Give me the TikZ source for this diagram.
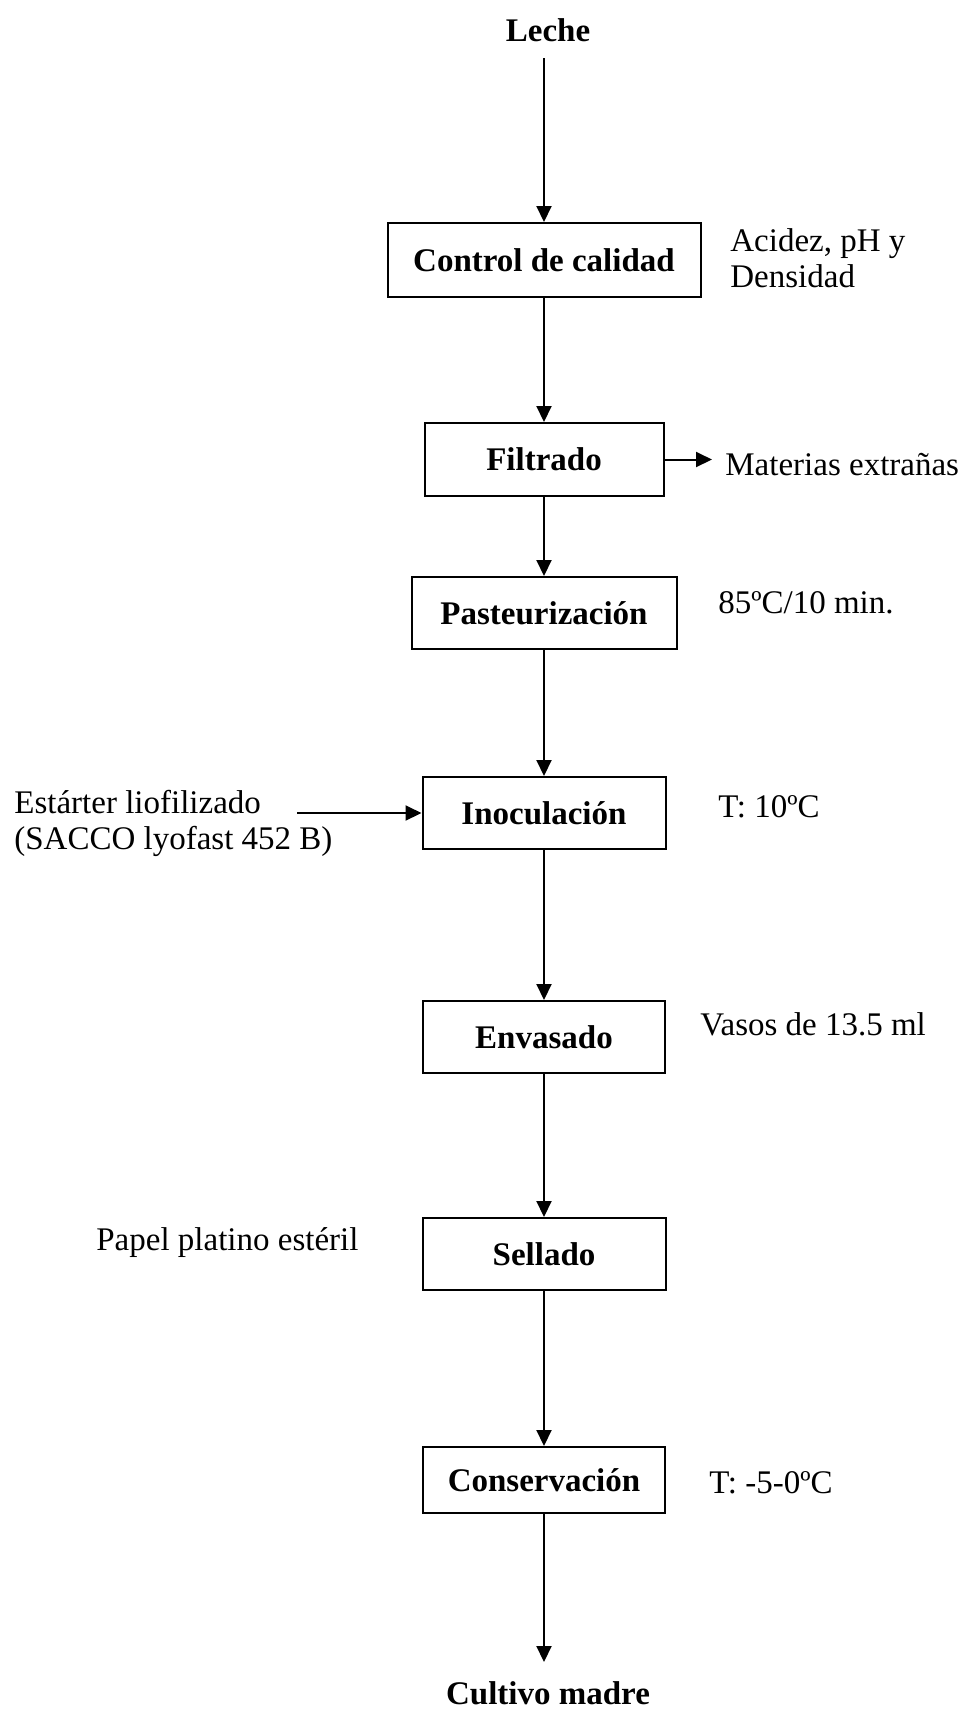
\documentclass[tikz,border=0pt]{standalone}
\usepackage{fontspec}
\setmainfont{Liberation Serif}
\usetikzlibrary{arrows.meta}
\begin{document}
\begin{tikzpicture}[x=0.5pt,y=-0.5pt,
  txt/.style={font=\fontsize{16.5}{18}\selectfont, inner sep=0pt},
  btxt/.style={font=\fontsize{16.5}{18}\selectfont\bfseries, inner sep=0pt},
  bx/.style={draw, line width=1pt, font=\fontsize{16.5}{18}\selectfont\bfseries, inner sep=0pt, minimum height=36pt},
  arr/.style={line width=1pt, -{Triangle[length=8pt,width=7.5pt]}},
]
\useasboundingbox (0,0) rectangle (970,1710);
% top and bottom labels
\node[btxt, anchor=base] (leche) at (548,41) {Leche};
\coordinate (a0) at (544,58);
% process boxes
\node[bx, minimum width=156.5pt, minimum height=37pt] (ctrl) at (544,260) {Control de calidad};
\node[bx, minimum width=119.5pt, minimum height=36.5pt] (filt) at (544,459.5) {Filtrado};
\node[bx, minimum width=132.5pt] (past) at (544,613) {Pasteurización};
\node[bx, minimum width=121.5pt] (inoc) at (544,813) {Inoculación};
\node[bx, minimum width=121pt] (env) at (544,1037) {Envasado};
\node[bx, minimum width=121.5pt] (sel) at (544,1254) {Sellado};
\node[bx, minimum width=121pt, minimum height=33pt] (con) at (544,1480) {Conservación};
\coordinate (cx) at (544,1662);
\node[btxt, anchor=base] (cm) at (548,1704) {Cultivo madre};
% side labels
\node[txt, anchor=west, align=left] (acid) at (730,258) {Acidez, pH y\\Densidad};
\node[txt, anchor=base west] (mat) at (725,475) {Materias extrañas};
\node[txt, anchor=base west] (t1) at (718,613) {85ºC/10 min.};
\node[txt, anchor=base west] (t2) at (718,817) {T: 10ºC};
\node[txt, anchor=west, align=left] (est) at (14,823) {Estárter liofilizado\\(SACCO lyofast 452 B)};
\node[txt, anchor=base west] (vas) at (700,1035) {Vasos de 13.5 ml};
\node[txt, anchor=base west] (pap) at (96,1250) {Papel platino estéril};
\node[txt, anchor=base west] (t3) at (709,1493) {T: -5-0ºC};
\coordinate (mx) at (712,459.5);
\coordinate (ex) at (297,813);
% connectors
\draw[arr] (a0) -- (ctrl.north);
\draw[arr] (ctrl.south) -- (filt.north);
\draw[arr] (filt.south) -- (past.north);
\draw[arr] (past.south) -- (inoc.north);
\draw[arr] (inoc.south) -- (env.north);
\draw[arr] (env.south) -- (sel.north);
\draw[arr] (sel.south) -- (con.north);
\draw[arr] (con.south) -- (cx);
\draw[arr] (filt.east) -- (mx);
\draw[arr] (ex) -- (inoc.west);
\end{tikzpicture}
\end{document}
